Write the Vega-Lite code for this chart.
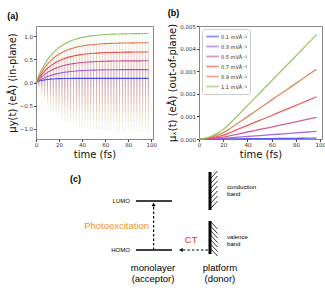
{
"$schema":"https://vega.github.io/schema/vega-lite/v6.json",
"background":"white",
"padding":{"left":6,"top":8,"right":0,"bottom":0},
"spacing":3,
"config":{
 "font":"DejaVu Sans",
 "view":{"stroke":"#888","strokeWidth":1},
 "axis":{"grid":false,"domain":false,"tickColor":"#444","tickSize":2.5,"labelFontSize":5.5,"labelColor":"#333","labelPadding":1,"titleFontSize":10,"titleFontWeight":"normal","titleColor":"#111","labelFlush":false,"labelOverlap":false},
 "title":{"fontSize":9,"font":"Liberation Sans","fontWeight":"bold","anchor":"start","frame":"bounds","offset":5,"color":"#000"}
},
"vconcat":[
 {"hconcat":[
  {
   "width":117,"height":113,
   "title":{"text":"(a)"},
   "data":{"values":[
    {"t":0,"b":0,"p":0,"k":0,"r":0,"o":0,"g":0},
    {"t":2.5,"b":0.025,"p":0.041,"k":0.068,"r":0.096,"o":0.125,"g":0.154},
    {"t":5,"b":0.043,"p":0.075,"k":0.126,"r":0.177,"o":0.23,"g":0.284},
    {"t":7.5,"b":0.056,"p":0.105,"k":0.176,"r":0.247,"o":0.322,"g":0.396},
    {"t":10,"b":0.065,"p":0.13,"k":0.219,"r":0.307,"o":0.4,"g":0.493},
    {"t":12.5,"b":0.072,"p":0.152,"k":0.255,"r":0.358,"o":0.466,"g":0.575},
    {"t":15,"b":0.077,"p":0.17,"k":0.286,"r":0.401,"o":0.523,"g":0.644},
    {"t":17.5,"b":0.08,"p":0.186,"k":0.313,"r":0.439,"o":0.572,"g":0.705},
    {"t":20,"b":0.083,"p":0.2,"k":0.336,"r":0.471,"o":0.614,"g":0.757},
    {"t":22.5,"b":0.085,"p":0.211,"k":0.355,"r":0.498,"o":0.649,"g":0.8},
    {"t":25,"b":0.086,"p":0.221,"k":0.371,"r":0.521,"o":0.679,"g":0.837},
    {"t":27.5,"b":0.087,"p":0.23,"k":0.386,"r":0.542,"o":0.706,"g":0.87},
    {"t":30,"b":0.088,"p":0.237,"k":0.398,"r":0.559,"o":0.728,"g":0.898},
    {"t":32.5,"b":0.089,"p":0.243,"k":0.408,"r":0.574,"o":0.747,"g":0.921},
    {"t":35,"b":0.089,"p":0.249,"k":0.417,"r":0.586,"o":0.764,"g":0.941},
    {"t":37.5,"b":0.09,"p":0.253,"k":0.425,"r":0.597,"o":0.777,"g":0.958},
    {"t":40,"b":0.09,"p":0.257,"k":0.431,"r":0.606,"o":0.789,"g":0.973},
    {"t":42.5,"b":0.09,"p":0.26,"k":0.437,"r":0.614,"o":0.8,"g":0.986},
    {"t":45,"b":0.09,"p":0.263,"k":0.442,"r":0.62,"o":0.808,"g":0.996},
    {"t":47.5,"b":0.09,"p":0.266,"k":0.446,"r":0.626,"o":0.816,"g":1.006},
    {"t":50,"b":0.09,"p":0.268,"k":0.449,"r":0.631,"o":0.822,"g":1.013},
    {"t":52.5,"b":0.09,"p":0.269,"k":0.452,"r":0.635,"o":0.827,"g":1.02},
    {"t":55,"b":0.09,"p":0.271,"k":0.455,"r":0.639,"o":0.832,"g":1.026},
    {"t":57.5,"b":0.09,"p":0.272,"k":0.457,"r":0.642,"o":0.837,"g":1.031},
    {"t":60,"b":0.09,"p":0.274,"k":0.459,"r":0.645,"o":0.84,"g":1.036},
    {"t":62.5,"b":0.09,"p":0.274,"k":0.461,"r":0.647,"o":0.843,"g":1.039},
    {"t":65,"b":0.09,"p":0.275,"k":0.462,"r":0.649,"o":0.845,"g":1.042},
    {"t":67.5,"b":0.09,"p":0.276,"k":0.463,"r":0.65,"o":0.847,"g":1.044},
    {"t":70,"b":0.09,"p":0.276,"k":0.464,"r":0.651,"o":0.849,"g":1.046},
    {"t":72.5,"b":0.09,"p":0.277,"k":0.465,"r":0.653,"o":0.851,"g":1.048},
    {"t":75,"b":0.09,"p":0.277,"k":0.466,"r":0.654,"o":0.852,"g":1.05},
    {"t":77.5,"b":0.09,"p":0.278,"k":0.466,"r":0.655,"o":0.853,"g":1.052},
    {"t":80,"b":0.09,"p":0.278,"k":0.467,"r":0.655,"o":0.854,"g":1.053},
    {"t":82.5,"b":0.09,"p":0.278,"k":0.467,"r":0.656,"o":0.855,"g":1.054},
    {"t":85,"b":0.09,"p":0.279,"k":0.468,"r":0.657,"o":0.856,"g":1.055},
    {"t":87.5,"b":0.09,"p":0.279,"k":0.468,"r":0.657,"o":0.857,"g":1.056},
    {"t":90,"b":0.09,"p":0.279,"k":0.468,"r":0.657,"o":0.857,"g":1.056},
    {"t":92.5,"b":0.09,"p":0.279,"k":0.469,"r":0.658,"o":0.857,"g":1.057},
    {"t":95,"b":0.09,"p":0.279,"k":0.469,"r":0.658,"o":0.857,"g":1.057},
    {"t":97.5,"b":0.09,"p":0.279,"k":0.469,"r":0.659,"o":0.858,"g":1.058}
   ]},
   "transform":[{"fold":["b","p","k","r","o","g"],"as":["s","v"]}],
   "encoding":{
    "x":{"field":"t","type":"quantitative","scale":{"domain":[0,101.5],"nice":false},"axis":{"values":[0,20,40,60,80,100],"format":"d","title":"time (fs)","titlePadding":1}},
    "color":{"field":"s","type":"nominal","scale":{"domain":["b","p","k","r","o","g"],"range":["#4a4af0","#9b59e0","#cc4f90","#f04b4b","#e07850","#92c062"]},"legend":null}
   },
   "layer":[
    {"mark":{"type":"rule","strokeWidth":0.8,"opacity":0.19},
     "encoding":{"y":{"field":"v","type":"quantitative","scale":{"domain":[-1.22,1.22],"nice":false},"axis":{"values":[-1,-0.5,0,0.5,1],"format":".1f","title":"μy(t) (eÅ) (in-plane)","titlePadding":2}},"y2":{"datum":0}}},
    {"mark":{"type":"rule","strokeWidth":0.8,"opacity":0.19},
     "encoding":{"y":{"field":"v","type":"quantitative","scale":{"domain":[-1.22,1.22],"nice":false,"reverse":true},"axis":null},"y2":{"datum":0}}},
    {"mark":{"type":"line","strokeWidth":1.1},
     "encoding":{"y":{"field":"v","type":"quantitative","scale":{"domain":[-1.22,1.22],"nice":false},"axis":null}}}
   ],
   "resolve":{"scale":{"y":"independent"}}
  },
  {
   "width":123,"height":113,
   "title":{"text":"(b)"},
   "data":{"values":[
    {"t":0,"b":0,"p":0,"k":0,"r":0,"o":0,"g":0},
    {"t":5,"b":0,"p":0.000002,"k":0.000006,"r":0.000012,"o":0.00002,"g":0.00003},
    {"t":10,"b":0.000001,"p":0.000009,"k":0.000025,"r":0.000049,"o":0.00008,"g":0.00012},
    {"t":15,"b":0.000002,"p":0.000019,"k":0.000052,"r":0.0001,"o":0.000167,"g":0.00025},
    {"t":20,"b":0.000003,"p":0.000031,"k":0.000087,"r":0.00017,"o":0.00028,"g":0.00042},
    {"t":25,"b":0.000005,"p":0.00005,"k":0.00014,"r":0.00027,"o":0.00044,"g":0.00066},
    {"t":30,"b":0.000008,"p":0.000069,"k":0.00019,"r":0.00038,"o":0.00062,"g":0.00093},
    {"t":40,"b":0.000012,"p":0.00011,"k":0.00031,"r":0.0006,"o":0.00099,"g":0.00148},
    {"t":50,"b":0.000017,"p":0.00015,"k":0.00042,"r":0.00082,"o":0.00136,"g":0.00203},
    {"t":60,"b":0.000021,"p":0.00019,"k":0.00053,"r":0.00104,"o":0.00173,"g":0.00258},
    {"t":70,"b":0.000026,"p":0.00023,"k":0.00065,"r":0.00127,"o":0.00209,"g":0.00313},
    {"t":80,"b":0.000031,"p":0.00027,"k":0.00076,"r":0.00149,"o":0.00246,"g":0.00368},
    {"t":90,"b":0.000035,"p":0.00031,"k":0.00088,"r":0.00171,"o":0.00283,"g":0.00423},
    {"t":97,"b":0.000038,"p":0.00034,"k":0.00096,"r":0.00187,"o":0.00309,"g":0.00462}
   ]},
   "transform":[{"fold":["b","p","k","r","o","g"],"as":["s","v"]}],
   "mark":{"type":"line","strokeWidth":1.3,"opacity":0.9,"interpolate":"monotone"},
   "encoding":{
    "x":{"field":"t","type":"quantitative","scale":{"domain":[0,101.5],"nice":false},"axis":{"values":[0,20,40,60,80,100],"format":"d","title":"time (fs)","titlePadding":1}},
    "y":{"field":"v","type":"quantitative","scale":{"domain":[0,0.005],"nice":false},"axis":{"values":[0,0.001,0.002,0.003,0.004,0.005],"format":".3f","title":"μₓ(t) (eÅ) (out-of-plane)","titlePadding":2}},
    "color":{"field":"s","type":"nominal","scale":{"domain":["b","p","k","r","o","g"],"range":["#4a4af0","#9b59e0","#cc4f90","#f04b4b","#e07850","#92c062"]},
     "legend":{"orient":"top-left","title":null,"offset":3,"fillColor":"white","strokeColor":"#ccc","cornerRadius":2,"padding":3,"labelFontSize":5,"labelColor":"#222","symbolType":"M-1.8,0L1.8,0","symbolSize":49,"symbolStrokeWidth":1.8,"symbolOpacity":0.6,"symbolOffset":3,"labelOffset":4,"rowPadding":1,
      "labelExpr":"{'b':'0.1 mVÅ⁻¹','p':'0.3 mVÅ⁻¹','k':'0.5 mVÅ⁻¹','r':'0.7 mVÅ⁻¹','o':'0.9 mVÅ⁻¹','g':'1.1 mVÅ⁻¹'}[datum.label]"}}
   }
  }
 ],
 "spacing":9,
 "resolve":{"scale":{"color":"independent"},"legend":{"color":"independent"}}
 },
 {
  "width":285,"height":125,
  "view":{"stroke":null},
  "encoding":{
   "x":{"field":"x","type":"quantitative","scale":{"domain":[10,105],"nice":false},"axis":null},
   "y":{"field":"y","type":"quantitative","scale":{"domain":[0,100],"nice":false},"axis":null}
  },
  "layer":[
   {"data":{"values":[{"x":43.3,"y":69.6,"x2":55.3,"y2":69.6},{"x":43.3,"y":30.4,"x2":55.3,"y2":30.4}]},
    "mark":{"type":"rule","strokeWidth":1.6,"color":"#000"},
    "encoding":{"x2":{"field":"x2"},"y2":{"field":"y2"}}},
   {"data":{"values":[{"x":68,"y":92.8,"x2":68,"y2":62.4},{"x":68,"y":53.6,"x2":68,"y2":27.2}]},
    "mark":{"type":"rule","strokeWidth":3,"color":"#000"},
    "encoding":{"x2":{"field":"x2"},"y2":{"field":"y2"}}},
   {"data":{"values":[
     {"x":68,"y":63.2,"x2":70.5,"y2":69.6},{"x":68,"y":67.2,"x2":70.5,"y2":73.6},{"x":68,"y":71.2,"x2":70.5,"y2":77.6},{"x":68,"y":75.2,"x2":70.5,"y2":81.6},{"x":68,"y":79.2,"x2":70.5,"y2":85.6},{"x":68,"y":83.2,"x2":70.5,"y2":89.6},{"x":68,"y":87.2,"x2":70.5,"y2":93.6},
     {"x":68,"y":53.6,"x2":70.5,"y2":47.2},{"x":68,"y":50,"x2":70.5,"y2":43.6},{"x":68,"y":46.4,"x2":70.5,"y2":40},{"x":68,"y":42.8,"x2":70.5,"y2":36.4},{"x":68,"y":39.2,"x2":70.5,"y2":32.8},{"x":68,"y":35.6,"x2":70.5,"y2":29.2},{"x":68,"y":32,"x2":70.5,"y2":25.6}]},
    "mark":{"type":"rule","strokeWidth":0.8,"color":"#000"},
    "encoding":{"x2":{"field":"x2"},"y2":{"field":"y2"}}},
   {"data":{"values":[{"x":49.2,"y":30.4,"x2":49.2,"y2":66},{"x":67.3,"y":30.4,"x2":58.8,"y2":30.4}]},
    "mark":{"type":"rule","strokeWidth":1.2,"color":"#000","strokeDash":[2.5,2]},
    "encoding":{"x2":{"field":"x2"},"y2":{"field":"y2"}}},
   {"data":{"values":[{"x":49.2,"y":66.8}]},
    "mark":{"type":"point","shape":"triangle-up","filled":true,"size":18,"color":"#000","opacity":1}},
   {"data":{"values":[{"x":58.3,"y":30.4}]},
    "mark":{"type":"point","shape":"triangle-left","filled":true,"size":18,"color":"#000","opacity":1}},
   {"data":{"values":[{"x":21.3,"y":87.2,"label":"(c)"}]},
    "mark":{"type":"text","font":"Liberation Sans","fontWeight":"bold","fontSize":9,"align":"left","baseline":"middle","color":"#000"},
    "encoding":{"text":{"field":"label"}}},
   {"data":{"values":[{"x":41.3,"y":69.6,"label":"LUMO"},{"x":41.3,"y":30.4,"label":"HOMO"}]},
    "mark":{"type":"text","font":"Liberation Sans","fontSize":6,"align":"right","baseline":"middle","color":"#000"},
    "encoding":{"text":{"field":"label"}}},
   {"data":{"values":[{"x":73.7,"y":80.8,"label":"conduction"},{"x":73.7,"y":75.2,"label":"band"},{"x":73.7,"y":40.8,"label":"valence"},{"x":73.7,"y":35.2,"label":"band"}]},
    "mark":{"type":"text","font":"Liberation Sans","fontSize":6,"align":"left","baseline":"middle","color":"#000"},
    "encoding":{"text":{"field":"label"}}},
   {"data":{"values":[{"x":49,"y":16,"label":"monolayer"},{"x":49,"y":7.2,"label":"(acceptor)"},{"x":71.3,"y":16,"label":"platform"},{"x":71.3,"y":7.2,"label":"(donor)"}]},
    "mark":{"type":"text","font":"Liberation Sans","fontSize":9.5,"align":"center","baseline":"middle","color":"#000"},
    "encoding":{"text":{"field":"label"}}},
   {"data":{"values":[{"x":47.7,"y":49.6,"label":"Photoexcitation"}]},
    "mark":{"type":"text","font":"Liberation Sans","fontSize":9.5,"align":"right","baseline":"middle","color":"#f39237"},
    "encoding":{"text":{"field":"label"}}},
   {"data":{"values":[{"x":61.7,"y":38.4,"label":"CT"}]},
    "mark":{"type":"text","font":"Liberation Sans","fontSize":9.5,"align":"center","baseline":"middle","color":"#f22b2b"},
    "encoding":{"text":{"field":"label"}}}
  ]
 }
]
}
